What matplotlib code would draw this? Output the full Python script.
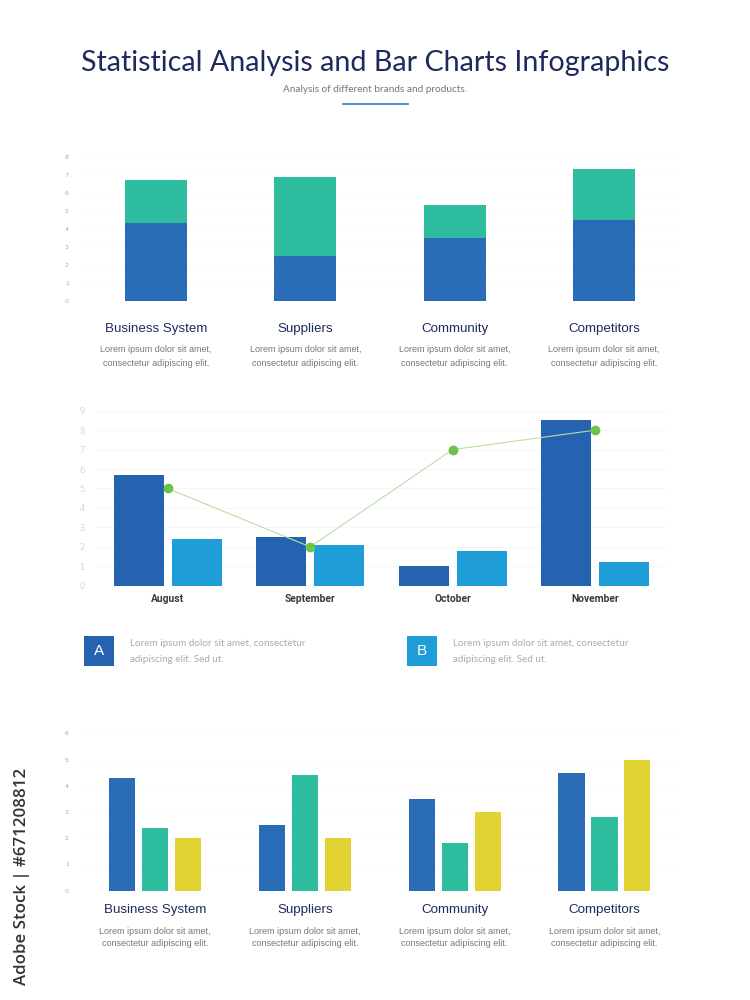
import matplotlib
matplotlib.use("Agg")
import matplotlib.pyplot as plt
import numpy as np

W, H = 750, 1000

# ---------------- data ----------------
categories = ["Business System", "Suppliers", "Community", "Competitors"]
desc_lines = ["Lorem ipsum dolor sit amet,", "consectetur adipiscing elit."]

stack_blue = [4.3, 2.5, 3.5, 4.5]
stack_green = [2.4, 4.4, 1.8, 2.8]
top_yticks = [0, 1, 2, 3, 4, 5, 6, 7, 8]

months = ["August", "September", "October", "November"]
series_a = [5.7, 2.5, 1.0, 8.5]
series_b = [2.4, 2.1, 1.8, 1.2]
line_vals = [5, 2, 7, 8]
mid_yticks = [0, 1, 2, 3, 4, 5, 6, 7, 8, 9]

group_blue = [4.3, 2.5, 3.5, 4.5]
group_green = [2.4, 4.4, 1.8, 2.8]
group_yellow = [2.0, 2.0, 3.0, 5.0]
bot_yticks = [0, 1, 2, 3, 4, 5, 6]

legend_labels = ["A", "B"]
legend_text = ["Lorem ipsum dolor sit amet, consectetur", "adipiscing elit. Sed ut."]

title = "Statistical Analysis and Bar Charts Infographics"
subtitle = "Analysis of different brands and products."
watermark = "Adobe Stock | #671208812"

# ---------------- colours ----------------
BLUE = "#2b6cb7"
GREEN = "#2dbd9e"
YELLOW = "#e1d332"
DARKBLUE = "#2563b0"
LIGHTBLUE = "#1e9dd9"
NAVY = "#1e2a5e"

fig = plt.figure(figsize=(W / 100, H / 100), dpi=100)
fig.patch.set_facecolor("white")


def ax_px(left, top, right, bottom):
    return fig.add_axes([left / W, 1 - bottom / H, (right - left) / W, (bottom - top) / H])


def fy(py):
    return 1 - py / H


def fx(px):
    return px / W


def style_axis(ax, yticks, tick_color, grid_color):
    for s in ax.spines.values():
        s.set_visible(False)
    ax.set_xticks([])
    ax.set_yticks(yticks)
    ax.tick_params(axis="y", length=0, labelsize=4.5, labelcolor=tick_color, pad=8)
    ax.set_axisbelow(True)
    ax.yaxis.grid(True, color=grid_color, linewidth=0.6)
    ax.set_facecolor("none")


# ---------------- title ----------------
fig.text(0.5, fy(63), title, ha="center", va="center", fontsize=20.6,
         color=NAVY, family="Lato")
fig.text(0.5, fy(89), subtitle, ha="center", va="center", fontsize=7.2,
         color="#777777", family="Lato")
fig.add_artist(plt.Line2D([fx(343), fx(408)], [fy(104), fy(104)],
                          color="#4a86d0", linewidth=1.3))

# ---------------- top stacked chart ----------------
x = np.arange(len(categories))
scale_top = 149.33
ax1 = ax_px(80, 156.7, 680, 301)
ax1.bar(x, stack_blue, width=0.415, color=BLUE)
ax1.bar(x, stack_green, width=0.415, bottom=stack_blue, color=GREEN)
ax1.set_xlim(-(156 - 80) / scale_top, 3 + (680 - 604) / scale_top)
ax1.set_ylim(0, 8)
style_axis(ax1, top_yticks, "#aaaaaa", "#fafafa")


def cat_labels(ax, ylab, yl1, yl2):
    for i, c in enumerate(categories):
        xd = ax.transData.transform((i, 0))[0]
        xf = xd / fig.bbox.width
        fig.text(xf, fy(ylab), c, ha="center", va="center", fontsize=9.6,
                 color=NAVY, family="Liberation Sans")
        fig.text(xf, fy(yl1), desc_lines[0], ha="center", va="center", fontsize=6.45,
                 color="#777777", family="Liberation Sans")
        fig.text(xf, fy(yl2), desc_lines[1], ha="center", va="center", fontsize=6.45,
                 color="#777777", family="Liberation Sans")


cat_labels(ax1, 329, 350, 363)

# ---------------- middle grouped + line chart ----------------
scale_mid = 142.5
ax2 = ax_px(95.6, 410.7, 665.7, 585.7)
xm = np.arange(len(months))
bw = 0.35
off = 0.2035
ax2.bar(xm - off, series_a, width=bw, color=DARKBLUE)
ax2.bar(xm + off, series_b, width=bw, color=LIGHTBLUE)
ax2.plot(xm, line_vals, color="#b8e0a4", linewidth=0.8, zorder=3)
ax2.plot(xm, line_vals, linestyle="none", marker="o", markersize=6,
         color="#6cc24a", zorder=4)
ax2.set_xlim(-(167.7 - 95.6) / scale_mid, 3 + (665.7 - 595.2) / scale_mid)
ax2.set_ylim(0, 9)
style_axis(ax2, mid_yticks, "#d6d6d6", "#f5f5f5")
ax2.tick_params(axis="y", labelsize=6, pad=8)
for i, m in enumerate(months):
    xd = ax2.transData.transform((i, 0))[0] / fig.bbox.width
    fig.text(xd, fy(599), m, ha="center", va="center", fontsize=7.4,
             fontweight="bold", color="#3a3a3a", family="Roboto")

# legend boxes
for lab, col, bx in zip(legend_labels, [DARKBLUE, LIGHTBLUE], [84, 406.5]):
    fig.add_artist(plt.Rectangle((fx(bx), fy(666)), 30 / W, 30 / H,
                                 facecolor=col, edgecolor="none"))
    fig.text(fx(bx + 15), fy(651), lab, ha="center", va="center", fontsize=11,
             color="white", family="Liberation Sans")
    fig.text(fx(bx + 46), fy(643), legend_text[0], ha="left", va="center",
             fontsize=7.15, color="#aaaaaa", family="Lato")
    fig.text(fx(bx + 46), fy(659), legend_text[1], ha="left", va="center",
             fontsize=7.15, color="#aaaaaa", family="Lato")

# ---------------- bottom grouped chart ----------------
scale_bot = 149.8
ax3 = ax_px(80, 733.3, 680, 890.7)
gb = 0.174
go = 0.22
ax3.bar(x - go, group_blue, width=gb, color=BLUE)
ax3.bar(x, group_green, width=gb, color=GREEN)
ax3.bar(x + go, group_yellow, width=gb, color=YELLOW)
ax3.set_xlim(-(155 - 80) / scale_bot, 3 + (680 - 604.5) / scale_bot)
ax3.set_ylim(0, 6)
style_axis(ax3, bot_yticks, "#aaaaaa", "#fafafa")
cat_labels(ax3, 910, 931, 944)

# ---------------- side watermark ----------------
fig.text(fx(22), fy(876.5), watermark, rotation=90, ha="center", va="center",
         fontsize=12.2, fontweight="semibold", color="#333333", family="Open Sans")

fig.savefig("out.png", dpi=100, facecolor="white")
